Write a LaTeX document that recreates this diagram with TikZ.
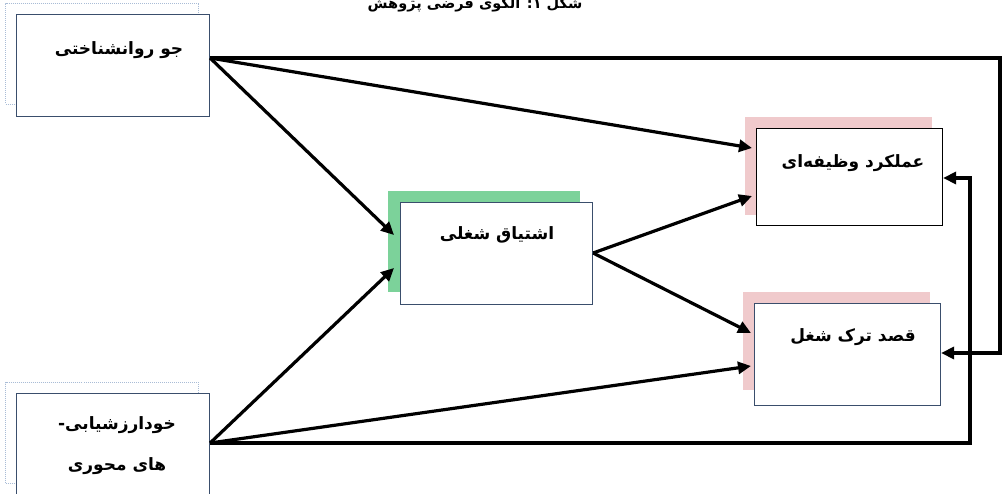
\documentclass[tikz,border=0pt]{standalone}
\usepackage{fontspec}
\usetikzlibrary{arrows.meta,calc}
\newfontfamily\fa[Script=Arabic]{DejaVu Sans}
\TeXXeTstate=1
\definecolor{boxblue}{HTML}{3A4E6C}
\definecolor{dotblue}{HTML}{A9BCD6}
\definecolor{shpink}{HTML}{F0CACC}
\definecolor{shgreen}{HTML}{7CD29A}
\tikzset{
  box/.style={draw=#1, line width=1.1pt, fill=white, minimum width=193pt, minimum height=102pt, inner sep=0pt},
  ghost/.style={draw=dotblue, densely dotted, line width=1pt, minimum width=193pt, minimum height=101pt, inner sep=0pt},
  shade/.style={fill=#1, draw=none, minimum width=187pt, minimum height=98pt, inner sep=0pt},
  lbl/.style={font=\fa\bfseries\fontsize{17}{20}\selectfont, inner sep=0pt, align=center},
  conn/.style={line width=3.2pt, black},
  arr/.style={conn, -{Triangle[length=13pt,width=12pt]}},
}
\begin{document}
\begin{tikzpicture}[x=1pt,y=-1pt]
\useasboundingbox (0,0) rectangle (1003,494);
\clip (0,0) rectangle (1003,494);
\fill[white] (0,0) rectangle (1003,494);
% title (cut off at top, as in the reference)
\node[lbl, font=\fa\bfseries\fontsize{14.5}{17}\selectfont, anchor=base] (title) at (475,9) {\beginR شکل ۱: الگوی فرضی پژوهش\endR};
% shadows / ghosts
\node[ghost, anchor=north west] (jog) at (5,3) {};
\node[ghost, anchor=north west] (khg) at (5,382) {};
\node[shade=shgreen, anchor=north west, minimum width=192pt, minimum height=101pt] (ishs) at (388,191) {};
\node[shade=shpink, anchor=north west] (amls) at (745,117) {};
\node[shade=shpink, anchor=north west] (qsds) at (743,292) {};
% boxes
\node[box=boxblue, anchor=north west] (jo) at (16,14) {};
\node[box=boxblue, anchor=north west] (kh) at (16,393) {};
\node[box=boxblue, anchor=north west, minimum width=192pt] (ish) at (400,202) {};
\node[box=black, anchor=north west, minimum width=186pt, minimum height=97pt] (aml) at (756,128) {};
\node[box=boxblue, anchor=north west, minimum width=186pt, minimum height=102pt] (qsd) at (754,303) {};
% labels
\node[lbl] (jol) at (119,50) {\beginR جو روانشناختی\endR};
\node[lbl] (khl) at (117,446) {\beginR خودارزشیابی-\endR\\[21pt]\beginR های محوری\endR};
\node[lbl] (ishl) at (497,235) {\beginR اشتیاق شغلی\endR};
\node[lbl] (amll) at (853,163) {\beginR عملکرد وظیفه‌ای\endR};
\node[lbl] (qsdl) at (853,337) {\beginR قصد ترک شغل\endR};
% connector ports
\coordinate (joOut) at (jo.east |- 0,58);
\coordinate (khOut) at (kh.east |- 0,443);
\coordinate (ishOut) at (ish.east |- 0,253);
\coordinate (ishIn1) at (394,235);
\coordinate (ishIn2) at (394,268);
\coordinate (amlIn1) at (752,148);
\coordinate (amlIn2) at (752,196);
\coordinate (qsdIn1) at (751,333);
\coordinate (qsdIn2) at (751,366);
\coordinate (amlR) at (aml.east |- 0,178);
\coordinate (qsdR) at (qsd.east |- 0,353);
% connectors
\draw[arr] (joOut) -- (amlIn1);
\draw[arr] (joOut) -- (ishIn1);
\draw[arr] (khOut) -- (ishIn2);
\draw[arr] (khOut) -- (qsdIn2);
\draw[arr] (ishOut) -- (amlIn2);
\draw[arr] (ishOut) -- (qsdIn1);
\draw[arr] (joOut) -- (1000,58) -- (1000,353) -- (qsdR);
\draw[arr] (khOut) -- (970,443) -- (970,178) -- (amlR);
\end{tikzpicture}
\end{document}
